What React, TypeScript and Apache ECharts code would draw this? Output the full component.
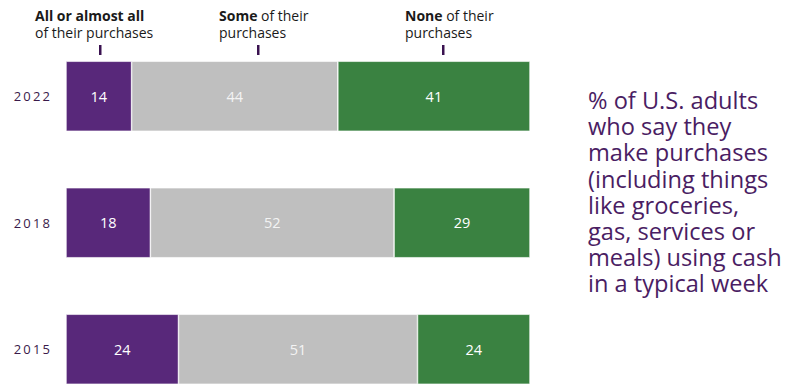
import React, { useEffect, useRef } from "react";
import * as echarts from "echarts";

const years = ["2022", "2018", "2015"];
const allOrAlmostAll = [14, 18, 24];
const some = [44, 52, 51];
const none = [41, 29, 24];
const seriesNames = ["All or almost all", "Some", "None"];
const headerRest = ["of their purchases", "of their", "of their"];
const noteLines = [
  "% of U.S. adults",
  "who say they",
  "make purchases",
  "(including things",
  "like groceries,",
  "gas, services or",
  "meals) using cash",
  "in a typical week",
];

export default function App() {
  const ref = useRef<HTMLDivElement>(null);
  useEffect(() => {
    document.body.style.margin = "0";
    if (!ref.current) return;
    const chart = echarts.init(ref.current, undefined, { renderer: "svg" });
    const font = "'Open Sans', 'Noto Sans', sans-serif";
    const colors = ["#58287a", "#bfbfbf", "#3a8241"];
    const labelColors = ["#ffffff", "#f4f4f4", "#ffffff"];
    const data = [allOrAlmostAll, some, none];
    const totals = years.map((_, i) => allOrAlmostAll[i] + some[i] + none[i]);
    const maxTotal = Math.max(...totals);
    const mkSeries = (k: number) => ({
      type: "bar",
      name: seriesNames[k],
      stack: "s",
      data: data[k],
      barWidth: 70,
      itemStyle: { color: colors[k], borderColor: "#ffffff", borderWidth: 0.6 },
      label: {
        show: true,
        position: "inside",
        color: labelColors[k],
        fontSize: 14.5,
        fontFamily: font,
      },
    });
    const headerText = (x: number, bold: string, rest: string, second?: string) => ({
      type: "text",
      left: x,
      top: 8,
      style: {
        text: second
          ? `{b|${bold}}\n{r|${second}}`
          : `{b|${bold}}{r| ${rest}}\n{r|purchases}`,
        rich: {
          b: { fontWeight: "bold", fontSize: 14, fontFamily: font, fill: "#1a1a1a", lineHeight: 17 },
          r: { fontSize: 14, fontFamily: font, fill: "#1a1a1a", lineHeight: 17 },
        },
      },
    });
    const tick = (x: number) => ({
      type: "rect",
      shape: { x: x - 1, y: 45, width: 2.5, height: 10 },
      style: { fill: "#3a1250" },
    });
    chart.setOption({
      animation: false,
      grid: { left: 66, top: 33, width: 464, height: 379.5, outerBoundsMode: "none", containLabel: false },
      xAxis: { type: "value", min: 0, max: maxTotal, show: false },
      yAxis: {
        type: "category",
        data: years,
        inverse: true,
        axisLine: { show: false },
        axisTick: { show: false },
        axisLabel: {
          margin: 16,
          fontSize: 13,
          color: "#3a1a4a",
          fontFamily: font,
          formatter: (v: string) => v.split("").join("\u2009"),
        },
      },
      series: [mkSeries(0), mkSeries(1), mkSeries(2)],
      graphic: [
        headerText(35, seriesNames[0], "", headerRest[0]),
        headerText(219, seriesNames[1], headerRest[1]),
        headerText(405, seriesNames[2], headerRest[2]),
        tick(100),
        tick(258),
        tick(443),
        ...noteLines.map((line, i) => ({
          type: "text",
          left: 588,
          top: 88 + i * 26.2,
          style: {
            text: line,
            fontSize: 23.6,
            fontFamily: font,
            fill: "#4a1d63",
          },
        })),
      ],
    });
    return () => chart.dispose();
  }, []);
  return <div ref={ref} style={{ width: 791, height: 385 }} />;
}
